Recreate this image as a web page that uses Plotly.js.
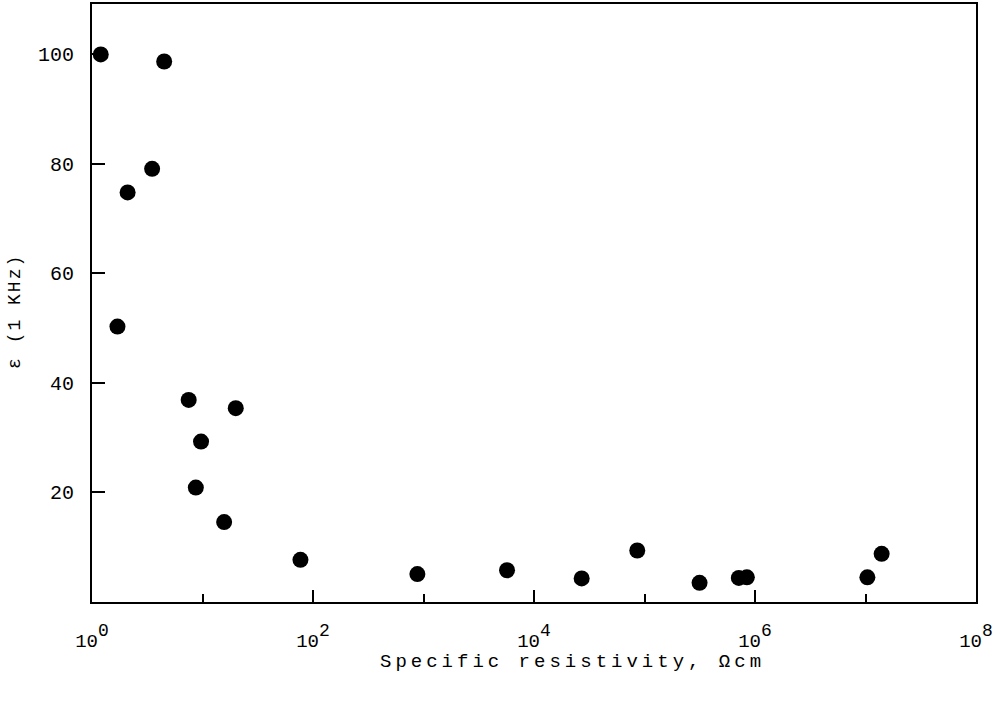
<!DOCTYPE html>
<html>
<head>
<meta charset="utf-8">
<script src="https://cdn.plot.ly/plotly-3.0.1.min.js"></script>
<style>
  body { margin: 0; background: #fff; }
  #chart { width: 1001px; height: 705px; }
  .annotation-text { letter-spacing: 4px; }
  g.annotation[data-index="1"] .annotation-text { letter-spacing: 2px; }
  .xtick text tspan { font-size: 18px !important; }
</style>
</head>
<body>
<div id="chart"></div>
<script>
// Specific resistivity (Ohm cm) and permittivity at 1 kHz
const resistivity = [1.2, 4.5, 3.5, 2.1, 1.7, 7.5, 20, 9.7, 8.7, 15.7, 77, 880, 5700, 27000, 86000, 315000, 714000, 844000, 10400000, 14000000];
const epsilon     = [100, 98.7, 79.1, 74.8, 50.3, 36.9, 35.4, 29.3, 20.9, 14.6, 7.7, 5.1, 5.8, 4.3, 9.4, 3.5, 4.4, 4.5, 4.5, 8.8];

const xMajorTicks = [1, 100, 1e4, 1e6, 1e8];
const xMajorLabels = ["10<sup>0</sup>", "10<sup>2</sup>", "10<sup>4</sup>", "10<sup>6</sup>", "10<sup>8</sup>"];
const xMinorTicks = [10, 1e3, 1e5, 1e7];
const yTicks = [20, 40, 60, 80, 100];
const yLabels = ["20", "40", "60", "80", "100"];

const xTitle = "Specific resistivity, \u03A9cm";
const yTitle = "\u03B5 (1 KHz)";

const font = "'Liberation Mono', 'Courier New', 'DejaVu Sans Mono', monospace";

Plotly.newPlot('chart', [{
  x: resistivity,
  y: epsilon,
  type: 'scatter',
  mode: 'markers',
  marker: { color: '#000', size: 16 },
  showlegend: false,
  cliponaxis: false
}], {
  width: 1001,
  height: 705,
  margin: { l: 92, r: 25, t: 4, b: 103 },
  paper_bgcolor: '#fff',
  plot_bgcolor: '#fff',
  font: { family: font, color: '#000', size: 18 },
  xaxis: {
    type: 'log',
    range: [0, 8],
    showgrid: false,
    zeroline: false,
    showline: true,
    mirror: true,
    linecolor: '#000',
    linewidth: 2,
    ticks: 'inside',
    ticklen: 12,
    tickwidth: 2,
    tickcolor: '#000',
    tickmode: 'array',
    tickvals: xMajorTicks,
    ticktext: xMajorLabels,
    ticklabelstandoff: 20,
    tickfont: { family: font, size: 19 },
    minor: { tickmode: 'array', tickvals: xMinorTicks, ticks: 'inside', ticklen: 8, tickwidth: 2, tickcolor: '#000', showgrid: false }
  },
  yaxis: {
    range: [0, 109.2],
    showgrid: false,
    zeroline: false,
    showline: true,
    mirror: true,
    linecolor: '#000',
    linewidth: 2,
    ticks: 'inside',
    ticklen: 13,
    tickwidth: 2,
    tickcolor: '#000',
    tickmode: 'array',
    tickvals: yTicks,
    ticktext: yLabels,
    ticklabelstandoff: 12,
    tickfont: { family: font, size: 20 }
  },
  annotations: [
    { text: xTitle, xref: 'paper', yref: 'paper', x: 0.544, y: -0.1003, xanchor: 'center', yanchor: 'middle', showarrow: false, font: { family: font, size: 19 } },
    { text: yTitle, xref: 'paper', yref: 'paper', x: -0.0871, y: 0.485, xanchor: 'center', yanchor: 'middle', textangle: -90, showarrow: false, font: { family: font, size: 18 } }
  ]
}, { staticPlot: true });
</script>
</body>
</html>
